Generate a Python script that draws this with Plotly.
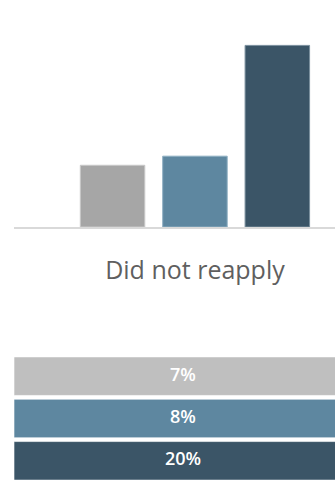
import plotly.graph_objects as go

# ---- data ----
category = ["Did not reapply"]
series_names = ["Series 1", "Series 2", "Series 3"]
series_values = [6.8, 7.8, 20.0]          # percent
value_labels = [f"{round(v)}%" for v in series_values]
table_span = [1, 1, 1]                      # each table row spans the full width

bar_colors = ["#A6A6A6", "#5E87A0", "#3B5567"]
bar_edge = ["#C9C9C9", "#8FAFC2", "#7A909E"]
row_colors = ["#BFBFBF", "#5E87A0", "#3B5567"]

W, H = 335, 482
x_left = 14 / W
top_bottom = (H - 227) / H
table_top = (H - 355) / H

fig = go.Figure()

for name, v, c, e in zip(series_names, series_values, bar_colors, bar_edge):
    fig.add_trace(go.Bar(
        x=category, y=[v], name=name,
        marker=dict(color=c, line=dict(color=e, width=1)),
        xaxis="x", yaxis="y", showlegend=False, hoverinfo="skip",
    ))

# table rows
fig.add_trace(go.Bar(
    y=series_names, x=table_span, base=0, orientation="h",
    width=0.91,
    marker=dict(color=row_colors, line=dict(color="rgba(255,255,255,0.6)", width=1)),
    xaxis="x2", yaxis="y2", showlegend=False, hoverinfo="skip",
))
# table cell labels, centred in each row
fig.add_trace(go.Scatter(
    y=series_names, x=[s / 2 for s in table_span], mode="text",
    text=value_labels,
    textfont=dict(family="Open Sans", size=18, color="white", weight=600),
    xaxis="x2", yaxis="y2", showlegend=False, hoverinfo="skip",
    cliponaxis=False,
))

fig.update_layout(
    width=W, height=H,
    margin=dict(l=0, r=0, t=0, b=0),
    paper_bgcolor="white", plot_bgcolor="white",
    barmode="group", bargap=0.317, bargroupgap=0.217,
    xaxis=dict(
        domain=[x_left, 1], type="category", range=[-0.5, 0.387],
        showline=True, linecolor="#D9D9D9", linewidth=2,
        showgrid=False, zeroline=False, ticks="",
        tickfont=dict(family="Open Sans", size=25, color="#5F5F5F"),
        ticklabelstandoff=20,
        anchor="y",
    ),
    yaxis=dict(
        domain=[top_bottom, 1], range=[0, 25],
        visible=False, showgrid=False, zeroline=False,
    ),
    xaxis2=dict(
        domain=[x_left, 1], range=[0, 0.9497],
        visible=False, showgrid=False, zeroline=False, anchor="y2",
    ),
    yaxis2=dict(
        domain=[0, table_top], type="category", autorange="reversed",
        visible=False, showgrid=False, zeroline=False, anchor="x2",
    ),
)

fig.write_html(
    "out.html",
    config={"displayModeBar": False},
    post_script="document.body.style.margin='0';document.body.style.overflow='hidden';",
)
